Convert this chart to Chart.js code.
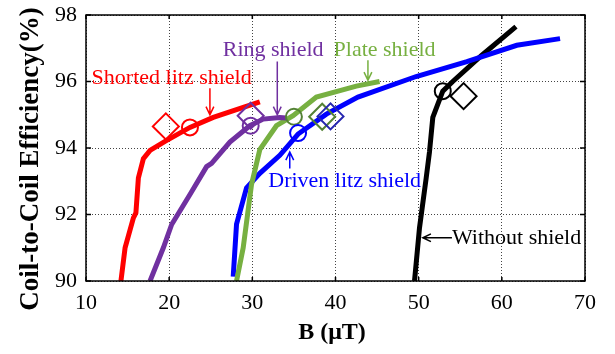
<!DOCTYPE html>
<html>
<head>
<meta charset="utf-8">
<script src="https://cdn.jsdelivr.net/npm/chart.js@4.4.1/dist/chart.umd.min.js"></script>
<style>
  html, body { margin: 0; padding: 0; background: #fff; }
  #wrap { width: 615px; height: 354px; }
</style>
</head>
<body>
<div id="wrap"><canvas id="myChart" width="615" height="354"></canvas></div>
<script>
// axis ticks
const xTicks = [10, 20, 30, 40, 50, 60, 70];
const yTicks = [90, 92, 94, 96, 98];

// curves (B in uT, efficiency in %)
const shortedB = [14.2, 14.7, 15.7, 16.0, 16.3, 16.9, 17.7, 19.5, 22.5, 25.3, 30.9];
const shortedEff = [90.0, 91.0, 91.9, 92.05, 93.1, 93.68, 93.93, 94.2, 94.62, 94.92, 95.39];

const ringB = [17.7, 19.3, 20.3, 22.5, 24.5, 25.1, 27.3, 29.7, 31.3, 33.3, 34.1];
const ringEff = [90.0, 91.0, 91.7, 92.6, 93.44, 93.54, 94.18, 94.67, 94.87, 94.92, 94.9];

const plateB = [28.1, 28.9, 29.9, 30.9, 32.9, 34.9, 37.7, 42.5, 45.3];
const plateEff = [90.0, 91.0, 92.9, 93.95, 94.67, 94.97, 95.53, 95.86, 96.0];

const drivenB = [27.7, 28.1, 29.3, 30.9, 33.3, 35.5, 38.9, 42.7, 49.7, 55.8, 61.8, 67.0];
const drivenEff = [90.13, 91.71, 92.8, 93.24, 93.78, 94.42, 95.02, 95.53, 96.15, 96.6, 97.09, 97.29];

const withoutB = [49.5, 50.1, 50.9, 51.3, 51.7, 52.9, 54.1, 57.6, 61.7];
const withoutEff = [90.0, 91.6, 93.09, 93.88, 94.92, 95.71, 96.0, 96.79, 97.65];

// markers: circles and diamonds (shorted, ring, plate, driven, without)
const circleB = [22.5, 29.8, 35.0, 35.5, 52.9];
const circleEff = [94.62, 94.67, 94.94, 94.45, 95.71];
const diamondB = [19.6, 29.8, 38.4, 39.4, 55.4];
const diamondEff = [94.65, 94.97, 94.94, 94.95, 95.56];

const lineColors = ["#ff0000", "#7030a0", "#77b041", "#0000ff", "#000000"];
const circleColors = ["#ff0000", "#7030a0", "#548235", "#0000ff", "#000000"];
const diamondColors = ["#ff0000", "#7030a0", "#548235", "#2626b0", "#000000"];

// labels with arrows, placed in data units
const labels = [
  { text: "Shorted litz shield", color: "#ff0000", x: 20.3, y: 96.1, align: "center", arrow: [24.9, 95.8, 24.9, 95.0] },
  { text: "Ring shield", color: "#7030a0", x: 32.5, y: 96.93, align: "center", arrow: [33.0, 96.6, 33.0, 95.0] },
  { text: "Plate shield", color: "#77b041", x: 45.9, y: 96.93, align: "center", arrow: [43.9, 96.64, 43.9, 96.04] },
  { text: "Driven litz shield", color: "#0000ff", x: 41.1, y: 92.99, align: "center", arrow: [34.5, 93.38, 34.5, 93.88] },
  { text: "Without shield", color: "#000000", x: 54.0, y: 91.3, align: "left", arrow: [54.0, 91.3, 50.5, 91.3] },
];

function toPoints(xs, ys) {
  return xs.map((x, i) => ({ x: x, y: ys[i] }));
}

const curves = [
  [shortedB, shortedEff],
  [ringB, ringEff],
  [plateB, plateEff],
  [drivenB, drivenEff],
  [withoutB, withoutEff],
];

const datasets = [];
curves.forEach((c, i) => {
  datasets.push({
    data: toPoints(c[0], c[1]),
    borderColor: lineColors[i],
    borderWidth: 5,
    pointRadius: 0,
    tension: 0,
    fill: false,
    order: 2,
  });
});
datasets.push({
  data: toPoints(circleB, circleEff),
  showLine: false,
  pointStyle: "circle",
  pointRadius: 8,
  pointBorderWidth: 2,
  pointBorderColor: circleColors,
  pointBackgroundColor: "rgba(0,0,0,0)",
  order: 1,
});
datasets.push({
  data: toPoints(diamondB, diamondEff),
  showLine: false,
  pointStyle: "rectRot",
  pointRadius: 13,
  pointBorderWidth: 2,
  pointBorderColor: diamondColors,
  pointBackgroundColor: "rgba(0,0,0,0)",
  order: 1,
});

function drawArrow(ctx, x1, y1, x2, y2) {
  const ang = Math.atan2(y2 - y1, x2 - x1);
  const len = 9;
  ctx.beginPath();
  ctx.moveTo(x1, y1);
  ctx.lineTo(x2, y2);
  ctx.moveTo(x2 - len * Math.cos(ang - 0.45), y2 - len * Math.sin(ang - 0.45));
  ctx.lineTo(x2, y2);
  ctx.lineTo(x2 - len * Math.cos(ang + 0.45), y2 - len * Math.sin(ang + 0.45));
  ctx.stroke();
}

const extras = {
  id: "extras",
  afterDraw(chart) {
    const ctx = chart.ctx;
    const xs = chart.scales.x;
    const ys = chart.scales.y;
    const a = chart.chartArea;
    ctx.save();
    // frame
    ctx.strokeStyle = "#000";
    ctx.lineWidth = 1.5;
    ctx.strokeRect(a.left, a.top, a.right - a.left, a.bottom - a.top);
    // inward tick marks on all sides
    ctx.beginPath();
    xTicks.forEach((v) => {
      const px = xs.getPixelForValue(v);
      ctx.moveTo(px, a.bottom);
      ctx.lineTo(px, a.bottom - 4);
      ctx.moveTo(px, a.top);
      ctx.lineTo(px, a.top + 4);
    });
    yTicks.forEach((v) => {
      const py = ys.getPixelForValue(v);
      ctx.moveTo(a.left, py);
      ctx.lineTo(a.left + 5, py);
      ctx.moveTo(a.right, py);
      ctx.lineTo(a.right - 5, py);
    });
    ctx.stroke();

    // annotations
    ctx.font = "22px 'Liberation Serif', 'Times New Roman', serif";
    ctx.textBaseline = "middle";
    labels.forEach((l) => {
      ctx.fillStyle = l.color;
      ctx.strokeStyle = l.color;
      ctx.lineWidth = 1.5;
      ctx.textAlign = l.align;
      ctx.fillText(l.text, xs.getPixelForValue(l.x), ys.getPixelForValue(l.y));
      const ar = l.arrow;
      drawArrow(
        ctx,
        xs.getPixelForValue(ar[0]),
        ys.getPixelForValue(ar[1]),
        xs.getPixelForValue(ar[2]),
        ys.getPixelForValue(ar[3])
      );
    });

    // axis titles
    ctx.fillStyle = "#000";
    ctx.textAlign = "center";
    ctx.font = "bold 24px 'Liberation Serif', 'Times New Roman', serif";
    ctx.fillText("B (\u03bcT)", 332, 333);
    ctx.translate(31, 159);
    ctx.rotate(-Math.PI / 2);
    ctx.font = "bold 27px 'Liberation Serif', 'Times New Roman', serif";
    ctx.fillText("Coil-to-Coil Efficiency(%)", 0, 0);
    ctx.restore();
  },
};

const tickFont = { family: "'Liberation Serif', 'Times New Roman', serif", size: 22 };

new Chart(document.getElementById("myChart"), {
  type: "line",
  data: { datasets },
  options: {
    responsive: false,
    animation: false,
    layout: { padding: { left: 0, top: 11, right: 30, bottom: 0 } },
    plugins: { legend: { display: false }, tooltip: { enabled: false } },
    scales: {
      x: {
        type: "linear",
        min: 10,
        max: 70,
        afterBuildTicks: (scale) => {
          scale.ticks = xTicks.map((v) => ({ value: v }));
        },
        afterFit: (scale) => {
          scale.height = 73;
          scale.paddingLeft = 0;
          scale.paddingRight = 0;
        },
        ticks: { color: "#000", font: tickFont, padding: 9, maxRotation: 0 },
        grid: { color: "#444", lineWidth: 1, drawTicks: false },
        border: { display: false, dash: [1, 2] },
      },
      y: {
        type: "linear",
        min: 90,
        max: 98,
        afterBuildTicks: (scale) => {
          scale.ticks = yTicks.map((v) => ({ value: v }));
        },
        afterFit: (scale) => {
          scale.width = 86;
          scale.paddingTop = 0;
          scale.paddingBottom = 0;
        },
        ticks: { color: "#000", font: tickFont, padding: 9 },
        grid: { color: "#444", lineWidth: 1, drawTicks: false },
        border: { display: false, dash: [1, 2] },
      },
    },
  },
  plugins: [extras],
});
</script>
</body>
</html>
